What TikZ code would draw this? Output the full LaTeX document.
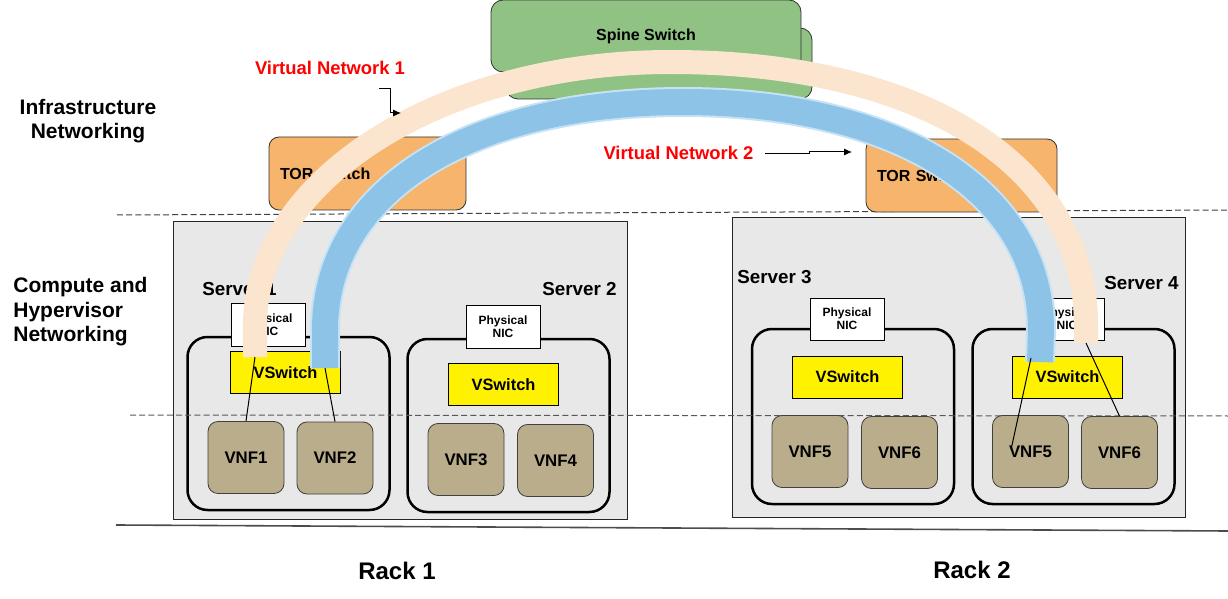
\documentclass[tikz,border=0pt]{standalone}
\usepackage{fontspec}
\setmainfont{Liberation Sans}
\usetikzlibrary{arrows.meta, positioning, calc}

\definecolor{spinegreen}{RGB}{143,194,131}
\definecolor{tororange}{RGB}{246,180,108}
\definecolor{rackgray}{RGB}{232,232,232}
\definecolor{vnftan}{RGB}{185,173,140}
\definecolor{vnpeach}{RGB}{252,229,206}
\definecolor{vnblue}{RGB}{141,195,230}
\definecolor{vnblueedge}{RGB}{198,227,246}

\tikzset{
    tierlbl/.style={inner sep=0pt, font=\bfseries\fontsize{10.5}{12.2}\selectfont},
    srvlbl/.style={inner sep=0pt, font=\bfseries\fontsize{9.4}{11}\selectfont},
    racklbl/.style={inner sep=0pt, font=\bfseries\fontsize{12}{14}\selectfont},
    vnlbl/.style={inner sep=0pt, text=red, font=\bfseries\fontsize{9.2}{11}\selectfont},
    spine/.style={draw=black!80, fill=spinegreen, rounded corners=6pt,
        minimum width=155pt, minimum height=36pt, font=\bfseries\fontsize{8}{9.6}\selectfont},
    tor/.style={draw=black!80, fill=tororange, rounded corners=5pt, minimum height=36.5pt,
        inner xsep=5.5pt, align=left, font=\bfseries\fontsize{8}{9.6}\selectfont},
    rackbox/.style={draw=black!85, fill=rackgray, line width=0.5pt},
    srv/.style={draw, line width=1.25pt, rounded corners=10pt, minimum width=101pt},
    nic/.style={draw, fill=white, minimum width=37pt, minimum height=21.5pt, inner sep=0pt,
        align=center, font=\bfseries\fontsize{6}{6.6}\selectfont},
    vsw/.style={draw, fill=yellow, minimum width=55pt, minimum height=21pt,
        font=\bfseries\fontsize{8.2}{9.6}\selectfont},
    vnf/.style={draw=black!75, fill=vnftan, rounded corners=5pt, minimum width=38pt,
        minimum height=36pt, font=\bfseries\fontsize{8.4}{10}\selectfont},
    tierline/.style={black!75, line width=0.5pt, dash pattern=on 3pt off 1.6pt},
    vnone/.style={vnpeach, line width=12pt},
    vntwo/.style={draw=vnblueedge, line width=1pt, double=vnblue, double distance=13pt},
    link/.style={black, line width=0.5pt},
    pointer/.style={-{Latex[length=4pt,width=3.6pt]}, line width=0.5pt}
}

\begin{document}
\begin{tikzpicture}[x=0.5pt, y=-0.5pt]
    \useasboundingbox (0,0) rectangle (1228,599);

    % tiers and racks
    \draw[tierline] (117,215) -- (1228,210);
    \draw[rackbox] (173,222) rectangle (627,519);
    \draw[rackbox] (732,218) rectangle (1185,517);
    \draw[black!70, line width=0.8pt] (116,525) -- (1228,531);

    \node[tierlbl, align=center] (infra) at (88,121) {Infrastructure\\Networking};
    \node[tierlbl, align=left, anchor=west] (compute) at (13,312) {Compute and\\Hypervisor\\Networking};
    \node[racklbl] (rack1) at (397,571) {Rack 1};
    \node[racklbl] (rack2) at (972,570) {Rack 2};

    % spine and tor switches
    \draw[draw=black!80, fill=spinegreen, rounded corners=6pt] (506,28) rectangle (812,99);
    \node[spine] (spine) at (646,36) {Spine Switch};
    \node[tor, text width=87.5pt] (tor1) at (367.5,173.5) {TOR Switch};
    \node[tor, text width=84.5pt] (tor2) at (961.5,175.5) {TOR Switch};

    % servers
    \node[srv, minimum height=86.5pt] (srv1) at (288.5,423.5) {};
    \node[srv, minimum height=86.5pt] (srv2) at (508.5,425.5) {};
    \node[srv, minimum height=87.5pt] (srv3) at (853,416.5) {};
    \node[srv, minimum height=87.5pt] (srv4) at (1073.5,416.5) {};
    \draw[tierline, black!65] (130,415) -- (1228,416);

    \node[srvlbl, anchor=west] (srv1lbl) at (202,289) {Server 1};
    \node[srvlbl, anchor=east] (srv2lbl) at (617,289) {Server 2};
    \node[srvlbl, anchor=west] (srv3lbl) at (737,277) {Server 3};
    \node[srvlbl, anchor=east] (srv4lbl) at (1179,283) {Server 4};

    \node[nic] (nic1) at (268,324.5) {Physical\\NIC};
    \node[nic] (nic2) at (503,327) {Physical\\NIC};
    \node[nic, minimum height=21pt] (nic3) at (847,319) {Physical\\NIC};
    \node[nic, minimum height=21pt] (nic4) at (1067,319) {Physical\\NIC};

    \node[vsw] (vsw1) at (285.5,372.5) {VSwitch};
    \node[vsw] (vsw2) at (503.5,384.5) {VSwitch};
    \node[vsw] (vsw3) at (847.5,377) {VSwitch};
    \node[vsw] (vsw4) at (1067.5,377) {VSwitch};

    \foreach \n/\x/\y/\t in {1/246/457.5/VNF1, 2/335/458/VNF2, 3/466/459.5/VNF3,
        4/555.5/460.5/VNF4, 5/810/451.5/VNF5, 6/899.5/452.5/VNF6,
        7/1030.5/451.5/VNF5, 8/1119.5/452.5/VNF6}
        \node[vnf] (vnf\n) at (\x,\y) {\t};

    % virtual networks
    \coordinate (vn1a) at (255,357);
    \coordinate (vn1b) at (1086,343);
    \coordinate (vn2a) at (325,368);
    \coordinate (vn2b) at (1040,362);
    \coordinate (vn2c) at (1031,358);
    \draw[vnone] (vn1a) -- (255,325) .. controls (255,180) and (441,62) .. (670.5,62)
        .. controls (930,62) and (1086,170) .. (1086,325) -- (vn1b);
    \draw[vntwo] (vn2a) -- (325,330) .. controls (325,190) and (470,102) .. (683,102)
        .. controls (896,102) and (1041,190) .. (1041,330) -- (vn2b);

    \draw[link] (vn1a) -- (vnf1.north);
    \draw[link] (vn2a) -- (vnf2.north);
    \draw[link] (vn2c) -- ($(vnf7.center)+(-19,-4)$);
    \draw[link] (vn1b) -- (vnf8.north);

    \node[vnlbl] (vn1lbl) at (330,68) {Virtual Network 1};
    \node[vnlbl] (vn2lbl) at (678.5,153) {Virtual Network 2};
    \coordinate (vn1tail) at (379,89);
    \coordinate (vn1tip) at (401,113);
    \coordinate (vn2tail) at (765,154);
    \coordinate (vn2tip) at (852,152);
    \draw[pointer] (vn1tail) -- ++(11,0) |- (vn1tip);
    \draw[pointer] (vn2tail) -- ++(44,0) -- ++(0,-2) -- (vn2tip);
\end{tikzpicture}
\end{document}
